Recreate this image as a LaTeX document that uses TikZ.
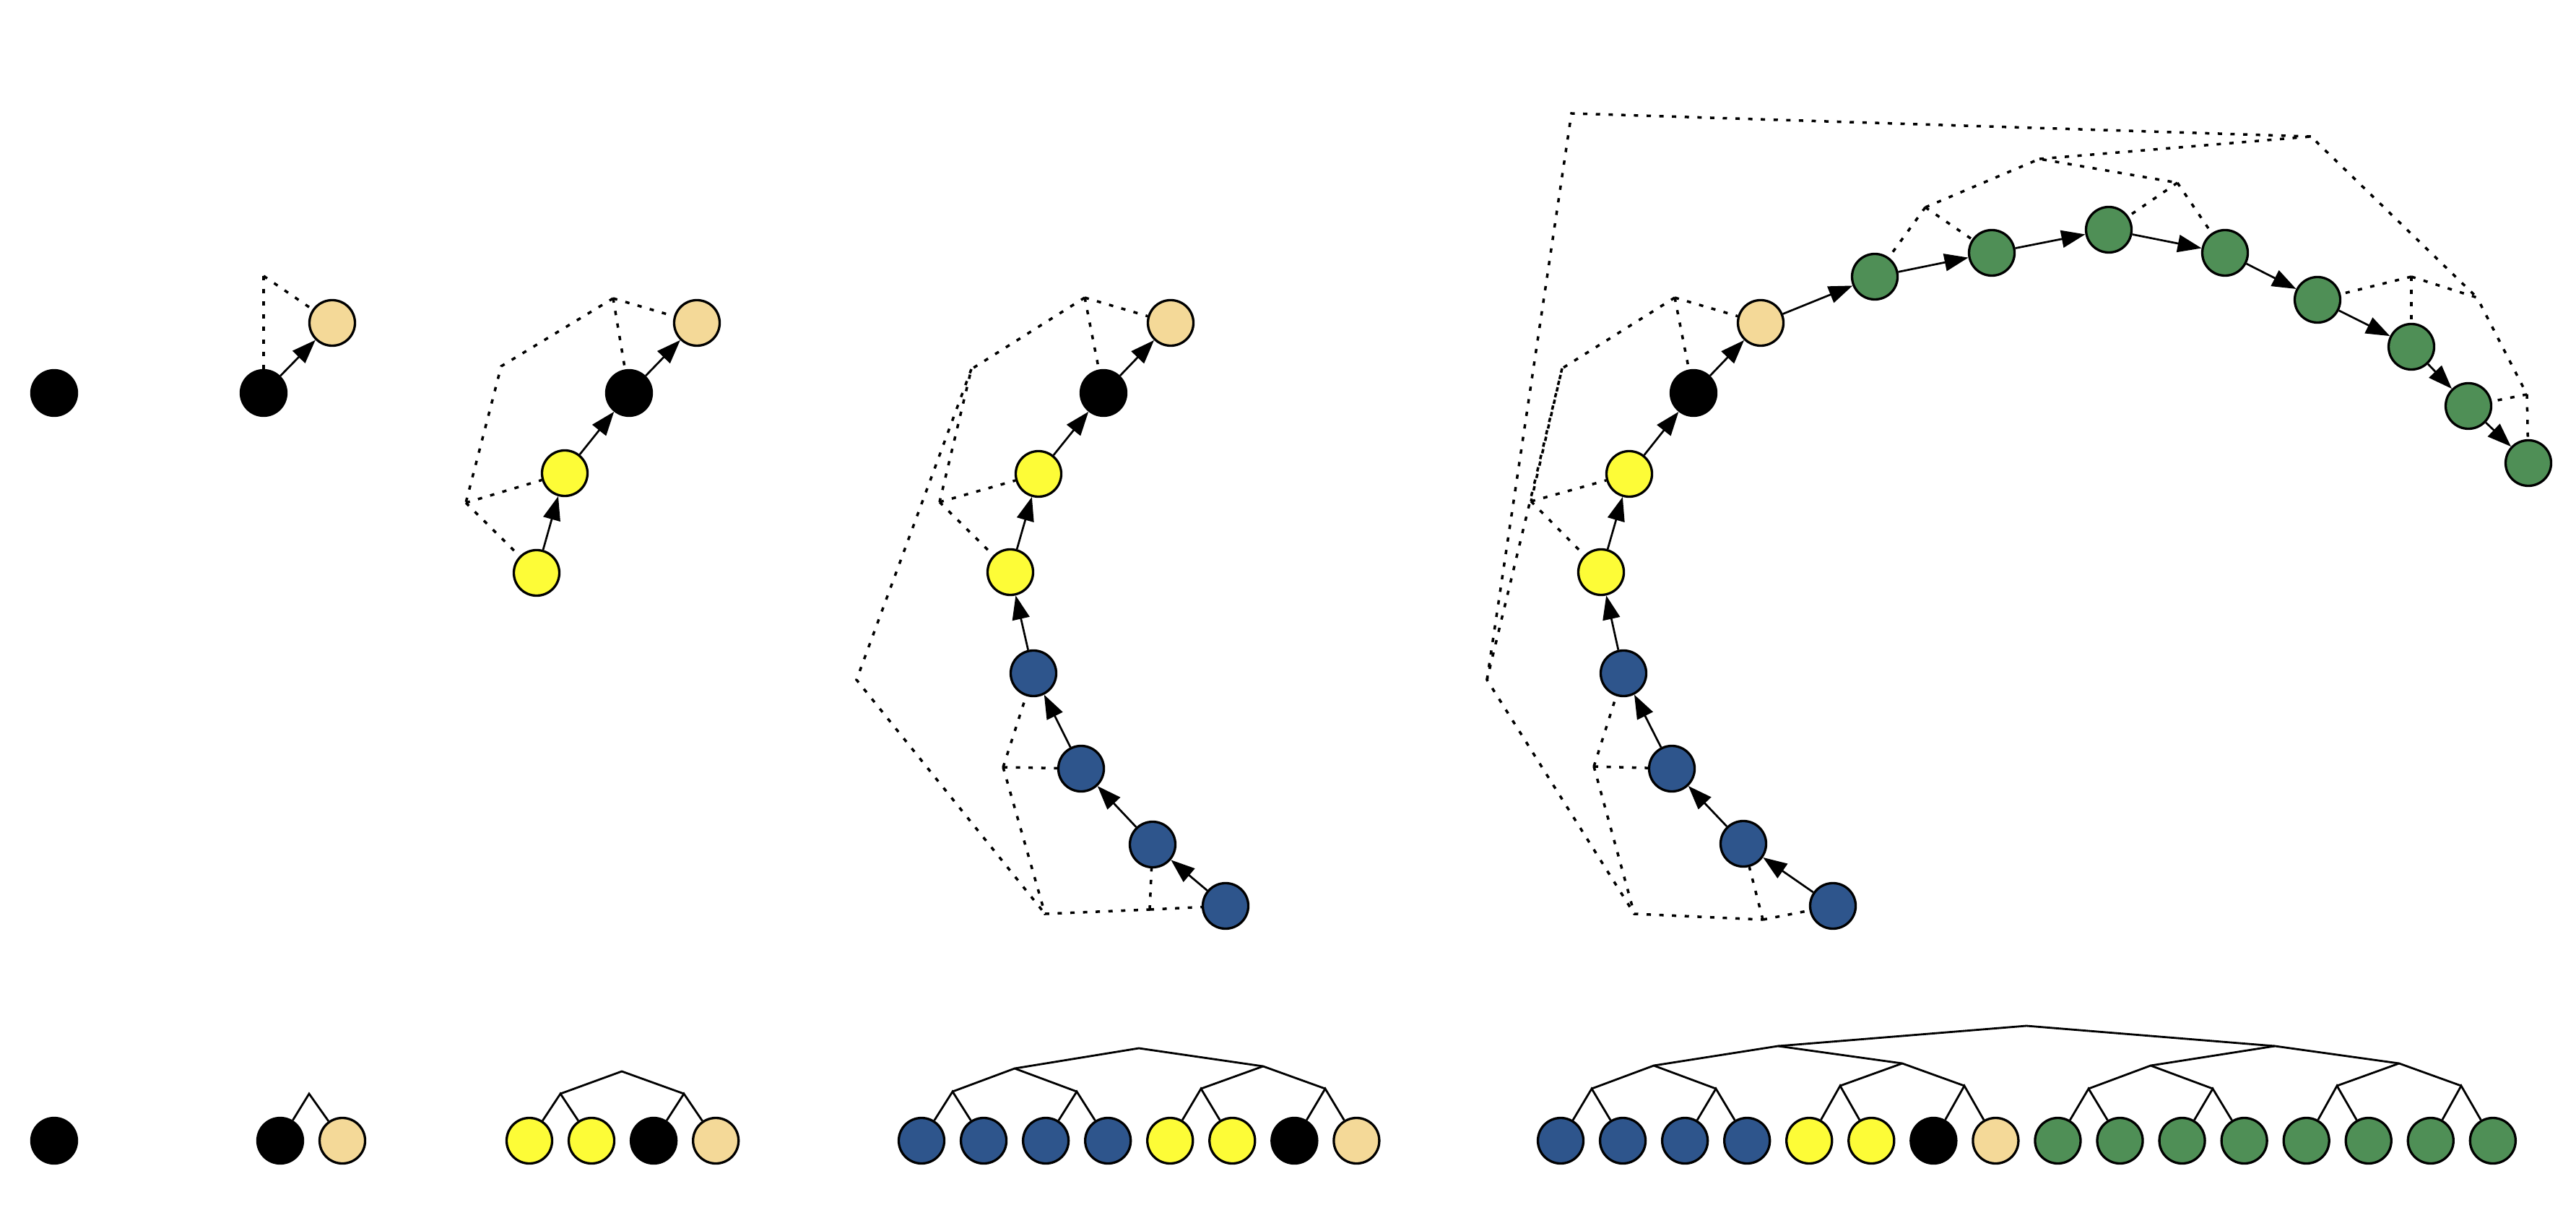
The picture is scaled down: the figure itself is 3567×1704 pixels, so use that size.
\documentclass[tikz,border=0pt]{standalone}
\usepackage{xcolor}
\usepackage{tikz}
\usetikzlibrary{arrows.meta, positioning}
\definecolor{dotblue}{RGB}{46,85,140}
\definecolor{dotgreen}{RGB}{79,143,86}
\definecolor{dotyellow}{RGB}{253,252,55}
\definecolor{dottan}{RGB}{244,217,152}
\tikzset{
  dot/.style={circle, draw=black, line width=0.94pt, minimum size=0.63cm, inner sep=0pt},
  bluedot/.style={dot, fill=dotblue},
  greendot/.style={dot, fill=dotgreen},
  yellowdot/.style={dot, fill=dotyellow},
  tandot/.style={dot, fill=dottan},
  blackdot/.style={dot, fill=black},
  chainarrow/.style={-{Triangle[length=0.33cm, width=0.24cm]}, line width=0.77pt},
  merge/.style={line width=1pt, dash pattern=on 1.7pt off 3.3pt},
  branch/.style={line width=0.8pt},
}
\begin{document}
\begin{tikzpicture}[x=0.01cm, y=-0.01cm, node distance=0.197cm]
  \useasboundingbox (0,0) rectangle (3567,1704);

  \node[blackdot] (blk-1) at (75,544) {};
  \node[blackdot] (l1-1) at (75,1579) {};

  \node[blackdot] (blk-2) at (365,544) {};
  \node[tandot] (tan-2) at (460,447) {};
  \coordinate (k-2) at (365,382);
  \draw[chainarrow] (blk-2) -- (tan-2);
  \draw[merge] (k-2) -- (blk-2);
  \draw[merge] (k-2) -- (tan-2);

  \node[blackdot] (l2-1) at (388,1579) {};
  \node[tandot, right=of l2-1] (l2-2) {};
  \coordinate (m2-r) at (428,1514);
  \draw[branch] (l2-1) -- (m2-r) -- (l2-2);

  \node[yellowdot] (ylw2-3) at (743,793) {};
  \node[yellowdot] (ylw1-3) at (782,655) {};
  \node[blackdot] (blk-3) at (871,544) {};
  \node[tandot] (tan-3) at (965,447) {};
  \draw[chainarrow] (ylw2-3) -- (ylw1-3);
  \draw[chainarrow] (ylw1-3) -- (blk-3);
  \draw[chainarrow] (blk-3) -- (tan-3);
  \coordinate (k-3) at (849,413);
  \coordinate (r-3) at (694,507);
  \coordinate (y-3) at (645,696);
  \draw[merge] (k-3) -- (blk-3);
  \draw[merge] (k-3) -- (tan-3);
  \draw[merge] (y-3) -- (ylw1-3);
  \draw[merge] (y-3) -- (ylw2-3);
  \draw[merge] (k-3) -- (r-3) -- (y-3);

  \node[yellowdot] (l3-1) at (733,1579) {};
  \node[yellowdot, right=of l3-1] (l3-2) {};
  \node[blackdot, right=of l3-2] (l3-3) {};
  \node[tandot, right=of l3-3] (l3-4) {};
  \coordinate (m3-a) at (776,1514);
  \coordinate (m3-b) at (947,1514);
  \coordinate (m3-r) at (861,1483);
  \draw[branch] (l3-1) -- (m3-a) -- (l3-2);
  \draw[branch] (l3-3) -- (m3-b) -- (l3-4);
  \draw[branch] (m3-a) -- (m3-r) -- (m3-b);

  \node[bluedot] (blue4-4) at (1697,1254) {};
  \node[bluedot] (blue3-4) at (1596,1169) {};
  \node[bluedot] (blue2-4) at (1497,1064) {};
  \node[bluedot] (blue1-4) at (1431,932) {};
  \node[yellowdot] (ylw2-4) at (1399,792) {};
  \node[yellowdot] (ylw1-4) at (1438,656) {};
  \node[blackdot] (blk-4) at (1528,544) {};
  \node[tandot] (tan-4) at (1621,447) {};
  \draw[chainarrow] (blue4-4) -- (blue3-4);
  \draw[chainarrow] (blue3-4) -- (blue2-4);
  \draw[chainarrow] (blue2-4) -- (blue1-4);
  \draw[chainarrow] (blue1-4) -- (ylw2-4);
  \draw[chainarrow] (ylw2-4) -- (ylw1-4);
  \draw[chainarrow] (ylw1-4) -- (blk-4);
  \draw[chainarrow] (blk-4) -- (tan-4);
  \coordinate (k-4) at (1502,412);
  \coordinate (yk-4) at (1345,511);
  \coordinate (y-4) at (1301,695);
  \coordinate (b12-4) at (1389,1062);
  \coordinate (b34-4) at (1592,1259);
  \coordinate (bb-4) at (1447,1265);
  \coordinate (r-4) at (1186,941);
  \draw[merge] (k-4) -- (blk-4);
  \draw[merge] (k-4) -- (tan-4);
  \draw[merge] (y-4) -- (ylw1-4);
  \draw[merge] (y-4) -- (ylw2-4);
  \draw[merge] (k-4) -- (yk-4) -- (y-4);
  \draw[merge] (b12-4) -- (blue1-4);
  \draw[merge] (b12-4) -- (blue2-4);
  \draw[merge] (b34-4) -- (blue3-4);
  \draw[merge] (b34-4) -- (blue4-4);
  \draw[merge] (b12-4) -- (bb-4) -- (b34-4);
  \draw[merge] (yk-4) -- (r-4) -- (bb-4);

  \node[bluedot] (l4-1) at (1276,1579) {};
  \node[bluedot, right=of l4-1] (l4-2) {};
  \node[bluedot, right=of l4-2] (l4-3) {};
  \node[bluedot, right=of l4-3] (l4-4) {};
  \node[yellowdot, right=of l4-4] (l4-5) {};
  \node[yellowdot, right=of l4-5] (l4-6) {};
  \node[blackdot, right=of l4-6] (l4-7) {};
  \node[tandot, right=of l4-7] (l4-8) {};
  \coordinate (m4-a) at (1319,1511);
  \coordinate (m4-b) at (1491,1511);
  \coordinate (m4-c) at (1663,1507);
  \coordinate (m4-d) at (1835,1507);
  \coordinate (m4-ab) at (1405,1479);
  \coordinate (m4-cd) at (1749,1476);
  \coordinate (m4-r) at (1577,1451);
  \draw[branch] (l4-1) -- (m4-a) -- (l4-2);
  \draw[branch] (l4-3) -- (m4-b) -- (l4-4);
  \draw[branch] (l4-5) -- (m4-c) -- (l4-6);
  \draw[branch] (l4-7) -- (m4-d) -- (l4-8);
  \draw[branch] (m4-a) -- (m4-ab) -- (m4-b);
  \draw[branch] (m4-c) -- (m4-cd) -- (m4-d);
  \draw[branch] (m4-ab) -- (m4-r) -- (m4-cd);

  \node[bluedot] (blue4-5) at (2538,1254) {};
  \node[bluedot] (blue3-5) at (2414,1168) {};
  \node[bluedot] (blue2-5) at (2315,1064) {};
  \node[bluedot] (blue1-5) at (2248,932) {};
  \node[yellowdot] (ylw2-5) at (2217,792) {};
  \node[yellowdot] (ylw1-5) at (2256,656) {};
  \node[blackdot] (blk-5) at (2345,544) {};
  \node[tandot] (tan-5) at (2438,447) {};
  \node[greendot] (grn1-5) at (2596,383) {};
  \node[greendot] (grn2-5) at (2758,350) {};
  \node[greendot] (grn3-5) at (2920,318) {};
  \node[greendot] (grn4-5) at (3081,350) {};
  \node[greendot] (grn5-5) at (3209,415) {};
  \node[greendot] (grn6-5) at (3339,480) {};
  \node[greendot] (grn7-5) at (3418,562) {};
  \node[greendot] (grn8-5) at (3501,641) {};
  \draw[chainarrow] (blue4-5) -- (blue3-5);
  \draw[chainarrow] (blue3-5) -- (blue2-5);
  \draw[chainarrow] (blue2-5) -- (blue1-5);
  \draw[chainarrow] (blue1-5) -- (ylw2-5);
  \draw[chainarrow] (ylw2-5) -- (ylw1-5);
  \draw[chainarrow] (ylw1-5) -- (blk-5);
  \draw[chainarrow] (blk-5) -- (tan-5);
  \draw[chainarrow] (tan-5) -- (grn1-5);
  \draw[chainarrow] (grn1-5) -- (grn2-5);
  \draw[chainarrow] (grn2-5) -- (grn3-5);
  \draw[chainarrow] (grn3-5) -- (grn4-5);
  \draw[chainarrow] (grn4-5) -- (grn5-5);
  \draw[chainarrow] (grn5-5) -- (grn6-5);
  \draw[chainarrow] (grn6-5) -- (grn7-5);
  \draw[chainarrow] (grn7-5) -- (grn8-5);
  \coordinate (r-5) at (2176,157);
  \coordinate (l-5) at (2059,941);
  \coordinate (g-5) at (3200,189);
  \coordinate (yk-5) at (2163,510);
  \coordinate (y-5) at (2120,694);
  \coordinate (k-5) at (2319,412);
  \coordinate (bb-5) at (2263,1265);
  \coordinate (b12-5) at (2207,1061);
  \coordinate (b34-5) at (2441,1273);
  \coordinate (g14-5) at (2824,220);
  \coordinate (g58-5) at (3430,412);
  \coordinate (g12-5) at (2666,287);
  \coordinate (g34-5) at (3015,253);
  \coordinate (g56-5) at (3339,383);
  \coordinate (g78-5) at (3499,546);
  \draw[merge] (k-5) -- (blk-5);
  \draw[merge] (k-5) -- (tan-5);
  \draw[merge] (y-5) -- (ylw1-5);
  \draw[merge] (y-5) -- (ylw2-5);
  \draw[merge] (k-5) -- (yk-5) -- (y-5);
  \draw[merge] (b12-5) -- (blue1-5);
  \draw[merge] (b12-5) -- (blue2-5);
  \draw[merge] (b34-5) -- (blue3-5);
  \draw[merge] (b34-5) -- (blue4-5);
  \draw[merge] (b12-5) -- (bb-5) -- (b34-5);
  \draw[merge] (yk-5) -- (l-5) -- (bb-5);
  \draw[merge] (g12-5) -- (grn1-5);
  \draw[merge] (g12-5) -- (grn2-5);
  \draw[merge] (g34-5) -- (grn3-5);
  \draw[merge] (g34-5) -- (grn4-5);
  \draw[merge] (g56-5) -- (grn5-5);
  \draw[merge] (g56-5) -- (grn6-5);
  \draw[merge] (g78-5) -- (grn7-5);
  \draw[merge] (g78-5) -- (grn8-5);
  \draw[merge] (g12-5) -- (g14-5) -- (g34-5);
  \draw[merge] (g56-5) -- (g58-5) -- (g78-5);
  \draw[merge] (g14-5) -- (g-5) -- (g58-5);
  \draw[merge] (l-5) -- (r-5) -- (g-5);

  \node[bluedot] (l5-1) at (2161,1579) {};
  \node[bluedot, right=of l5-1] (l5-2) {};
  \node[bluedot, right=of l5-2] (l5-3) {};
  \node[bluedot, right=of l5-3] (l5-4) {};
  \node[yellowdot, right=of l5-4] (l5-5) {};
  \node[yellowdot, right=of l5-5] (l5-6) {};
  \node[blackdot, right=of l5-6] (l5-7) {};
  \node[tandot, right=of l5-7] (l5-8) {};
  \node[greendot, right=of l5-8] (l5-9) {};
  \node[greendot, right=of l5-9] (l5-10) {};
  \node[greendot, right=of l5-10] (l5-11) {};
  \node[greendot, right=of l5-11] (l5-12) {};
  \node[greendot, right=of l5-12] (l5-13) {};
  \node[greendot, right=of l5-13] (l5-14) {};
  \node[greendot, right=of l5-14] (l5-15) {};
  \node[greendot, right=of l5-15] (l5-16) {};
  \coordinate (m5-a) at (2204,1507);
  \coordinate (m5-b) at (2376,1507);
  \coordinate (m5-c) at (2548,1503);
  \coordinate (m5-d) at (2720,1503);
  \coordinate (m5-e) at (2892,1507);
  \coordinate (m5-f) at (3064,1507);
  \coordinate (m5-g) at (3236,1503);
  \coordinate (m5-h) at (3408,1503);
  \coordinate (m5-ab) at (2290,1475);
  \coordinate (m5-cd) at (2634,1472);
  \coordinate (m5-ef) at (2978,1475);
  \coordinate (m5-gh) at (3322,1472);
  \coordinate (m5-ad) at (2462,1448);
  \coordinate (m5-eh) at (3150,1448);
  \coordinate (m5-r) at (2806,1420);
  \draw[branch] (l5-1) -- (m5-a) -- (l5-2);
  \draw[branch] (l5-3) -- (m5-b) -- (l5-4);
  \draw[branch] (l5-5) -- (m5-c) -- (l5-6);
  \draw[branch] (l5-7) -- (m5-d) -- (l5-8);
  \draw[branch] (l5-9) -- (m5-e) -- (l5-10);
  \draw[branch] (l5-11) -- (m5-f) -- (l5-12);
  \draw[branch] (l5-13) -- (m5-g) -- (l5-14);
  \draw[branch] (l5-15) -- (m5-h) -- (l5-16);
  \draw[branch] (m5-a) -- (m5-ab) -- (m5-b);
  \draw[branch] (m5-c) -- (m5-cd) -- (m5-d);
  \draw[branch] (m5-e) -- (m5-ef) -- (m5-f);
  \draw[branch] (m5-g) -- (m5-gh) -- (m5-h);
  \draw[branch] (m5-ab) -- (m5-ad) -- (m5-cd);
  \draw[branch] (m5-ef) -- (m5-eh) -- (m5-gh);
  \draw[branch] (m5-ad) -- (m5-r) -- (m5-eh);
\end{tikzpicture}
\end{document}
